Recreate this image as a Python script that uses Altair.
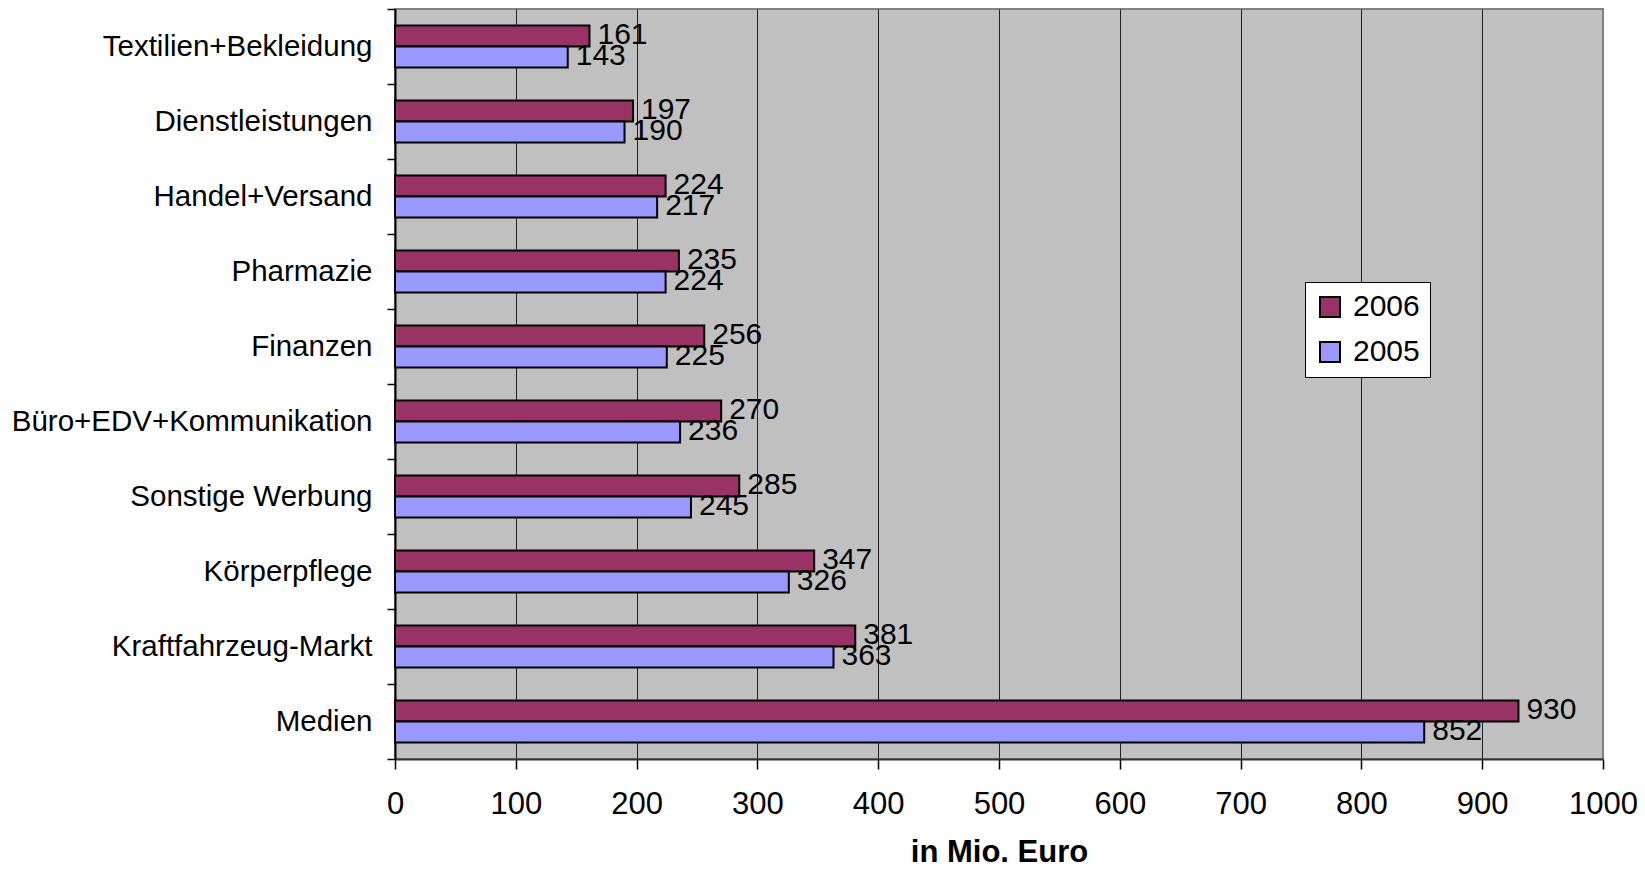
import altair as alt
import pandas as pd

categories = [
    "Textilien+Bekleidung",
    "Dienstleistungen",
    "Handel+Versand",
    "Pharmazie",
    "Finanzen",
    "Büro+EDV+Kommunikation",
    "Sonstige Werbung",
    "Körperpflege",
    "Kraftfahrzeug-Markt",
    "Medien",
]
values_2006 = [161, 197, 224, 235, 256, 270, 285, 347, 381, 930]
values_2005 = [143, 190, 217, 224, 225, 236, 245, 326, 363, 852]
years = ["2006", "2005"]
colors = ["#993366", "#9999FF"]
x_ticks = list(range(0, 1001, 100))

rows = []
for c, v6, v5 in zip(categories, values_2006, values_2005):
    rows.append({"Kategorie": c, "Jahr": "2006", "Wert": v6})
    rows.append({"Kategorie": c, "Jahr": "2005", "Wert": v5})
df = pd.DataFrame(rows)

FONT = "Liberation Sans"

base = alt.Chart(df).encode(
    y=alt.Y(
        "Kategorie:N",
        sort=categories,
        scale=alt.Scale(paddingInner=0, paddingOuter=0),
        axis=alt.Axis(
            title=None,
            grid=False,
            tickBand="extent",
            tickSize=8,
            tickColor="#000000",
            tickWidth=1.5,
            domainColor="#000000",
            domainWidth=2,
            labelFontSize=29.5,
            labelFont=FONT,
            labelColor="#000000",
            labelPadding=15,
            labelLimit=600,
        ),
    ),
    yOffset=alt.YOffset(
        "Jahr:N",
        sort=years,
        scale=alt.Scale(paddingInner=0, paddingOuter=0.78),
    ),
    x=alt.X(
        "Wert:Q",
        scale=alt.Scale(domain=[0, 1000], nice=False),
        axis=alt.Axis(
            values=x_ticks,
            format="d",
            title="in Mio. Euro",
            titleFont=FONT,
            titleFontSize=31,
            titleFontWeight="bold",
            titleColor="#000000",
            titleBaseline="alphabetic",
            titleY=102,
            grid=True,
            gridColor={
                "condition": {"test": "datum.value === 1000", "value": "#808080"},
                "value": "#222222",
            },
            gridWidth=1,
            gridOpacity=1,
            tickSize=10,
            tickColor="#000000",
            tickWidth=1.5,
            domainColor="#333333",
            domainWidth=2,
            labelFontSize=31,
            labelFont=FONT,
            labelColor="#000000",
            labelPadding=20,
            labelFlush=False,
        ),
    ),
)

bars = base.mark_bar(stroke="#000000", strokeWidth=2).encode(
    color=alt.Color(
        "Jahr:N",
        sort=years,
        scale=alt.Scale(domain=years, range=colors),
        legend=alt.Legend(
            title=None,
            orient="none",
            legendX=910,
            legendY=273,
            fillColor="#FFFFFF",
            strokeColor="#000000",
            padding=10,
            symbolType="square",
            symbolSize=400,
            symbolStrokeColor="#000000",
            symbolStrokeWidth=2,
            symbolOpacity=1,
            labelFontSize=30,
            labelFont=FONT,
            labelColor="#000000",
            labelOffset=8,
            rowPadding=15,
        ),
    )
)

labels = base.mark_text(
    align="left",
    baseline="middle",
    dx=8,
    dy=-1,
    fontSize=30,
    font=FONT,
    color="#000000",
).encode(text=alt.Text("Wert:Q"))

chart = (
    alt.layer(bars, labels)
    .properties(
        width=1208,
        height=750,
        autosize=alt.AutoSizeParams(type="none"),
        padding={"left": 387, "top": 1, "right": 34, "bottom": 108},
        background="#FFFFFF",
    )
    .configure_view(fill="#C0C0C0", stroke="#808080", strokeWidth=2)
)

chart.save("out.html", embed_options={"renderer": "svg", "actions": False})
